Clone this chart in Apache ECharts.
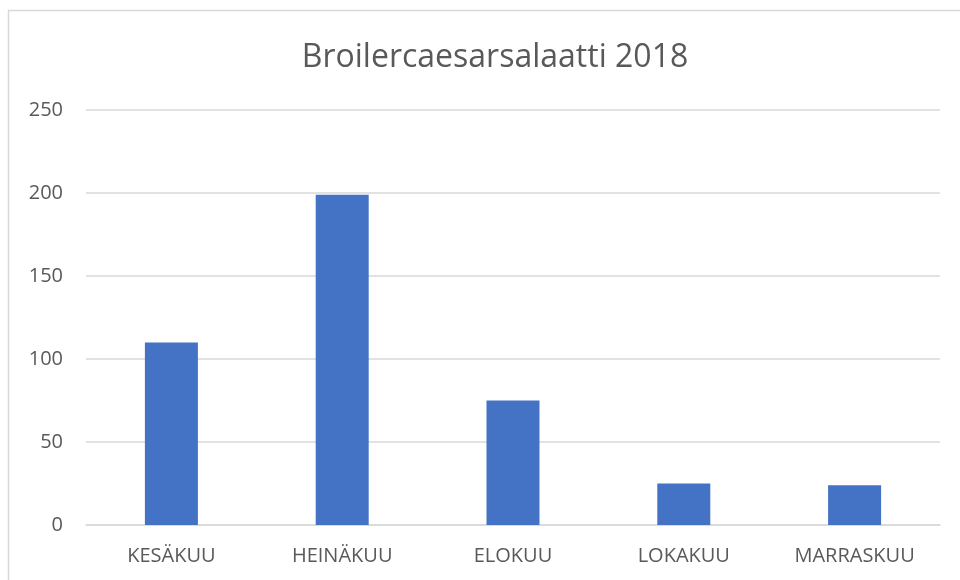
<!DOCTYPE html>
<html>
<head>
<meta charset="utf-8">
<script src="https://cdn.jsdelivr.net/npm/echarts@6/dist/echarts.min.js"></script>
<style>html,body{margin:0;padding:0;background:#fff}#c{width:960px;height:580px}</style>
</head>
<body>
<div id="c"></div>
<script>
const categories = ['KESÄKUU', 'HEINÄKUU', 'ELOKUU', 'LOKAKUU', 'MARRASKUU'];
const values = [110, 199, 75, 25, 24];
const yTicks = { min: 0, max: 250, interval: 50 };

const chart = echarts.init(document.getElementById('c'));
chart.setOption({
  animation: false,
  backgroundColor: '#fff',
  title: {
    text: 'Broilercaesarsalaatti 2018',
    left: 490, top: 37, textAlign: 'center',
    textStyle: { fontFamily: 'Open Sans', fontSize: 32, fontWeight: 'normal', color: '#595959' }
  },
  graphic: [{
    type: 'rect', shape: { x: 8.5, y: 10.5, width: 1000, height: 1000 },
    style: { fill: 'none', stroke: '#d9d9d9', lineWidth: 1.5 }, silent: true
  }],
  grid: { left: 86, right: 20, top: 110, bottom: 55 },
  xAxis: {
    type: 'category', data: categories,
    axisLine: { lineStyle: { color: '#d9d9d9', width: 1.5 } },
    axisTick: { show: false },
    axisLabel: { color: '#595959', fontFamily: 'Open Sans', fontSize: 20, margin: 21 }
  },
  yAxis: {
    type: 'value', min: yTicks.min, max: yTicks.max, interval: yTicks.interval,
    axisLine: { show: false }, axisTick: { show: false },
    splitLine: { lineStyle: { color: '#d9d9d9', width: 1.5 } },
    axisLabel: { color: '#595959', fontFamily: 'Open Sans', fontSize: 20, margin: 23 }
  },
  series: [{
    type: 'bar', data: values, barWidth: 53,
    itemStyle: { color: '#4472c4' }
  }]
});
</script>
</body>
</html>
